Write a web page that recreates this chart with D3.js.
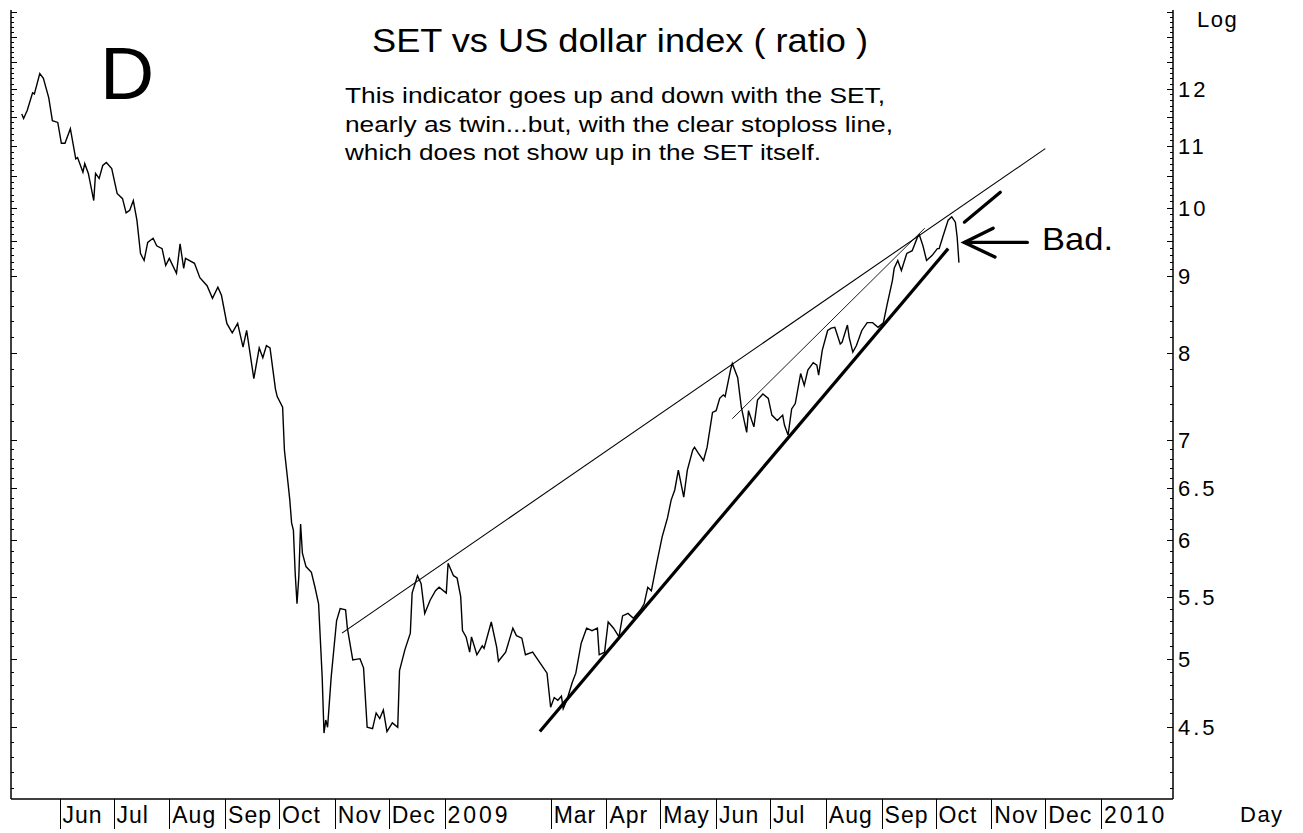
<!DOCTYPE html>
<html>
<head>
<meta charset="utf-8">
<style>
  body { margin: 0; background: #fff; }
  text { font-family: Arial, "Liberation Sans", sans-serif; fill: #000; }
</style>
</head>
<body>
<svg id="chart"></svg>
<script src="https://cdn.jsdelivr.net/npm/d3@7"></script>
<script>
var width = 1303, height = 833;

// SET / US dollar index ratio
var dates = [
  "2008-05-11","2008-05-12","2008-05-14","2008-05-17","2008-05-18","2008-05-21","2008-05-23","2008-05-26","2008-05-28","2008-05-31",
  "2008-06-02","2008-06-04","2008-06-07","2008-06-10","2008-06-11","2008-06-14","2008-06-15","2008-06-17","2008-06-20","2008-06-21",
  "2008-06-23","2008-06-25","2008-06-27","2008-06-30","2008-07-03","2008-07-06","2008-07-08","2008-07-10","2008-07-12","2008-07-14",
  "2008-07-16","2008-07-18","2008-07-20","2008-07-23","2008-07-25","2008-07-28","2008-07-30","2008-08-01","2008-08-05","2008-08-07",
  "2008-08-09","2008-08-10","2008-08-15","2008-08-18","2008-08-22","2008-08-25","2008-08-28","2008-08-30","2008-09-02","2008-09-05",
  "2008-09-08","2008-09-11","2008-09-13","2008-09-17","2008-09-20","2008-09-22","2008-09-24","2008-09-26","2008-09-29","2008-09-30",
  "2008-10-03","2008-10-04","2008-10-06","2008-10-07","2008-10-08","2008-10-09","2008-10-10","2008-10-11","2008-10-12","2008-10-13",
  "2008-10-14","2008-10-16","2008-10-19","2008-10-21","2008-10-23","2008-10-25","2008-10-26","2008-10-27","2008-10-28","2008-10-30",
  "2008-11-02","2008-11-04","2008-11-07","2008-11-08","2008-11-11","2008-11-15","2008-11-17","2008-11-19","2008-11-22","2008-11-24",
  "2008-11-26","2008-11-28","2008-11-30","2008-12-03","2008-12-06","2008-12-07","2008-12-10","2008-12-13","2008-12-14","2008-12-17",
  "2008-12-19","2008-12-21","2008-12-24","2008-12-27","2008-12-29","2009-01-02","2009-01-03","2009-01-06","2009-01-08","2009-01-10",
  "2009-01-11","2009-01-13","2009-01-15","2009-01-16","2009-01-19","2009-01-22","2009-01-23","2009-01-27","2009-01-30","2009-01-31",
  "2009-02-04","2009-02-08","2009-02-10","2009-02-13","2009-02-15","2009-02-19","2009-02-23","2009-02-27","2009-03-01","2009-03-03",
  "2009-03-05","2009-03-07","2009-03-08","2009-03-10","2009-03-13","2009-03-15","2009-03-18","2009-03-21","2009-03-24","2009-03-27",
  "2009-03-28","2009-03-31","2009-04-02","2009-04-05","2009-04-08","2009-04-10","2009-04-13","2009-04-16","2009-04-20","2009-04-22",
  "2009-04-24","2009-04-26","2009-04-29","2009-05-02","2009-05-05","2009-05-07","2009-05-09","2009-05-11","2009-05-14","2009-05-16",
  "2009-05-19","2009-05-20","2009-05-22","2009-05-25","2009-05-27","2009-05-30","2009-06-01","2009-06-03","2009-06-05","2009-06-06",
  "2009-06-09","2009-06-10","2009-06-13","2009-06-15","2009-06-18","2009-06-19","2009-06-22","2009-06-24","2009-06-27","2009-06-30",
  "2009-07-02","2009-07-05","2009-07-08","2009-07-09","2009-07-11","2009-07-13","2009-07-15","2009-07-18","2009-07-20","2009-07-22",
  "2009-07-25","2009-07-27","2009-07-28","2009-07-30","2009-08-02","2009-08-04","2009-08-06","2009-08-09","2009-08-10","2009-08-13",
  "2009-08-14","2009-08-16","2009-08-18","2009-08-21","2009-08-24","2009-08-27","2009-08-30","2009-09-02","2009-09-04","2009-09-07",
  "2009-09-08","2009-09-10","2009-09-12","2009-09-15","2009-09-18","2009-09-21","2009-09-22","2009-09-24","2009-09-26","2009-09-29",
  "2009-10-02","2009-10-03","2009-10-05","2009-10-08","2009-10-10","2009-10-12","2009-10-13","2009-10-14"
];
var values = [
  11.55,11.47,11.61,11.93,11.91,12.29,12.20,11.84,11.43,11.40,
  11.04,11.04,11.29,10.78,10.80,10.56,10.70,10.54,10.11,10.54,
  10.46,10.67,10.72,10.62,10.22,10.14,9.92,9.96,10.11,9.81,
  9.32,9.22,9.48,9.54,9.43,9.39,9.15,9.25,9.04,9.46,
  9.11,9.25,9.18,8.98,8.87,8.70,8.85,8.74,8.37,8.25,
  8.37,8.07,8.28,7.69,8.06,7.94,8.09,8.06,7.57,7.48,
  7.36,6.89,6.55,6.38,6.16,6.09,5.70,5.44,5.67,6.15,
  5.88,5.76,5.71,5.58,5.44,4.86,4.46,4.55,4.50,4.86,
  5.30,5.40,5.39,5.24,4.99,5.00,4.93,4.50,4.49,4.60,
  4.56,4.62,4.47,4.53,4.50,4.91,5.07,5.20,5.53,5.68,
  5.61,5.36,5.47,5.55,5.58,5.53,5.79,5.68,5.66,5.50,
  5.22,5.17,5.05,5.17,5.03,5.10,5.08,5.29,5.09,4.98,
  5.05,5.24,5.18,5.16,5.03,5.05,4.97,4.89,4.64,4.71,
  4.69,4.72,4.63,4.69,4.82,4.89,5.12,5.24,5.22,5.24,
  5.03,5.05,5.29,5.24,5.17,5.34,5.36,5.32,5.39,5.44,
  5.58,5.55,5.79,6.03,6.21,6.38,6.48,6.68,6.41,6.68,
  6.89,6.92,6.86,6.78,6.92,7.30,7.32,7.46,7.50,7.48,
  7.79,7.87,7.70,7.36,7.08,7.32,7.14,7.44,7.51,7.46,
  7.27,7.21,7.27,7.16,7.05,7.34,7.40,7.75,7.61,7.79,
  7.88,7.85,7.73,8.03,8.28,8.31,8.32,8.11,8.13,8.35,
  8.19,8.01,8.09,8.28,8.38,8.38,8.32,8.38,8.61,8.94,
  9.11,9.22,9.08,9.32,9.36,9.56,9.59,9.43,9.22,9.29,
  9.39,9.39,9.56,9.81,9.86,9.78,9.56,9.19
];

// month marks on the time axis (no Feb mark in the original)
var monthDates = ["2008-06-01","2008-07-01","2008-08-01","2008-09-01","2008-10-01","2008-11-01","2008-12-01",
  "2009-01-01","2009-03-01","2009-04-01","2009-05-01","2009-06-01","2009-07-01","2009-08-01","2009-09-01",
  "2009-10-01","2009-11-01","2009-12-01","2010-01-01"];
var monthLabels = ["Jun","Jul","Aug","Sep","Oct","Nov","Dec","2009","Mar","Apr","May","Jun","Jul","Aug","Sep",
  "Oct","Nov","Dec","2010"];

var priceTicks = [4.5, 5, 5.5, 6, 6.5, 7, 8, 9, 10, 11, 12];

// hand-drawn lines on the chart
var resistDates = ["2008-11-05", "2009-12-01"];
var resistValues = [5.20, 10.95];
var innerDates = ["2009-06-10", "2009-09-25"];
var innerValues = [7.23, 9.69];
var supportDates = ["2009-02-23", "2009-10-08"];
var supportValues = [4.47, 9.39];
var stubDates = ["2009-10-17", "2009-11-06"];
var stubValues = [9.78, 10.24];
var arrowDates = ["2009-11-02", "2009-10-17", "2009-11-03"];
var arrowValues = [9.69, 9.48, 9.27];
var shaftDates = ["2009-10-17", "2009-11-21"];
var shaftValues = [9.48, 9.48];

var parse = d3.timeParse("%Y-%m-%d");

var svg = d3.select("#chart").attr("width", width).attr("height", height);
svg.append("rect").attr("width", width).attr("height", height).attr("fill", "#fff");

var plotLeft = 11, plotRight = 1173, plotTop = 10, plotBottom = 799;

var x = d3.scaleTime()
    .domain([parse("2008-05-05"), parse("2010-02-10")])
    .range([plotLeft, plotRight]);
var y = d3.scaleLog()
    .domain([4.03, 13.55])
    .range([plotBottom, plotTop]);

// frame
svg.append("line").attr("x1", plotLeft).attr("x2", plotRight).attr("y1", plotBottom).attr("y2", plotBottom)
    .attr("stroke", "#000").attr("stroke-width", 1.5);
svg.append("line").attr("x1", plotLeft).attr("x2", plotLeft).attr("y1", plotTop).attr("y2", plotBottom)
    .attr("stroke", "#000").attr("stroke-width", 1.5);
svg.append("line").attr("x1", plotRight).attr("x2", plotRight).attr("y1", plotTop).attr("y2", plotBottom)
    .attr("stroke", "#000").attr("stroke-width", 1.5);

// small ticks on both vertical axes
var minor = d3.range(41, 136).filter(i => i < 70 || i >= 90 || i % 2 === 0);
minor.forEach(function(i) {
    var len = i % 5 === 0 ? 6 : 3;
    var yy = Math.round(y(i / 10)) + 0.5;
    svg.append("line").attr("x1", plotRight - len).attr("x2", plotRight).attr("y1", yy).attr("y2", yy)
        .attr("stroke", "#000").attr("stroke-width", 1);
    svg.append("line").attr("x1", plotLeft).attr("x2", plotLeft + len).attr("y1", yy).attr("y2", yy)
        .attr("stroke", "#000").attr("stroke-width", 1);
});

svg.selectAll(".ylab")
    .data(priceTicks)
    .enter()
    .append("text")
    .attr("x", plotRight + 5)
    .attr("y", d => y(d) + 8)
    .attr("font-size", 22)
    .attr("letter-spacing", 3)
    .text(d => d);

svg.append("text").attr("x", 1197).attr("y", 27).attr("font-size", 22).attr("letter-spacing", 1.5).text("Log");
svg.append("text").attr("x", 1240).attr("y", 822).attr("font-size", 22).attr("letter-spacing", 1.5).text("Day");

// month marks
var months = monthDates.map((d, i) => ({ date: parse(d), label: monthLabels[i] }));
svg.selectAll(".mtick")
    .data(months)
    .enter()
    .append("line")
    .attr("x1", d => Math.round(x(d.date)) + 0.5)
    .attr("x2", d => Math.round(x(d.date)) + 0.5)
    .attr("y1", plotBottom)
    .attr("y2", 829)
    .attr("stroke", "#000")
    .attr("stroke-width", 1);
svg.selectAll(".mlab")
    .data(months)
    .enter()
    .append("text")
    .attr("x", d => x(d.date) + 3)
    .attr("y", 823)
    .attr("font-size", 23)
    .attr("letter-spacing", d => /^\d/.test(d.label) ? 3 : 1)
    .text(d => d.label);

// trend lines
function seg(ds, vs) {
    return ds.map((d, i) => [x(parse(d)), y(vs[i])]);
}
var line = d3.line();
svg.append("path").attr("d", line(seg(resistDates, resistValues)))
    .attr("fill", "none").attr("stroke", "#000").attr("stroke-width", 1.1);
svg.append("path").attr("d", line(seg(innerDates, innerValues)))
    .attr("fill", "none").attr("stroke", "#000").attr("stroke-width", 0.9);
svg.append("path").attr("d", line(seg(supportDates, supportValues)))
    .attr("fill", "none").attr("stroke", "#000").attr("stroke-width", 3.2);

// the series
var series = dates.map((d, i) => ({ date: parse(d), value: values[i] }));
var path = d3.line()
    .x(d => x(d.date))
    .y(d => y(d.value));
svg.append("path")
    .datum(series)
    .attr("d", path)
    .attr("fill", "none")
    .attr("stroke", "#000")
    .attr("stroke-width", 1.4)
    .attr("stroke-linejoin", "miter");

// "Bad." mark
svg.append("path").attr("d", line(seg(stubDates, stubValues)))
    .attr("fill", "none").attr("stroke", "#000").attr("stroke-width", 3.2).attr("stroke-linecap", "round");
svg.append("path").attr("d", line(seg(arrowDates, arrowValues)))
    .attr("fill", "none").attr("stroke", "#000").attr("stroke-width", 3.4).attr("stroke-linecap", "round");
svg.append("path").attr("d", line(seg(shaftDates, shaftValues)))
    .attr("fill", "none").attr("stroke", "#000").attr("stroke-width", 3.4).attr("stroke-linecap", "round");
svg.append("text").attr("x", 1042).attr("y", 250).attr("font-size", 32)
    .attr("textLength", 71).attr("lengthAdjust", "spacingAndGlyphs").text("Bad.");

// titles
svg.append("text").attr("x", 100).attr("y", 99).attr("font-size", 75).text("D");
svg.append("text").attr("x", 372).attr("y", 52).attr("font-size", 33)
    .attr("textLength", 496).attr("lengthAdjust", "spacingAndGlyphs")
    .text("SET vs US dollar index ( ratio )");

var notes = ["This indicator goes up and down with the SET,",
             "nearly as twin...but, with the clear stoploss line,",
             "which does not show up in the SET itself."];
var noteWidths = [540, 548, 476];
svg.selectAll(".note")
    .data(notes)
    .enter()
    .append("text")
    .attr("x", 345)
    .attr("y", (d, i) => 103 + i * 28.5)
    .attr("font-size", 22)
    .attr("textLength", (d, i) => noteWidths[i])
    .attr("lengthAdjust", "spacingAndGlyphs")
    .text(d => d);
</script>
</body>
</html>
